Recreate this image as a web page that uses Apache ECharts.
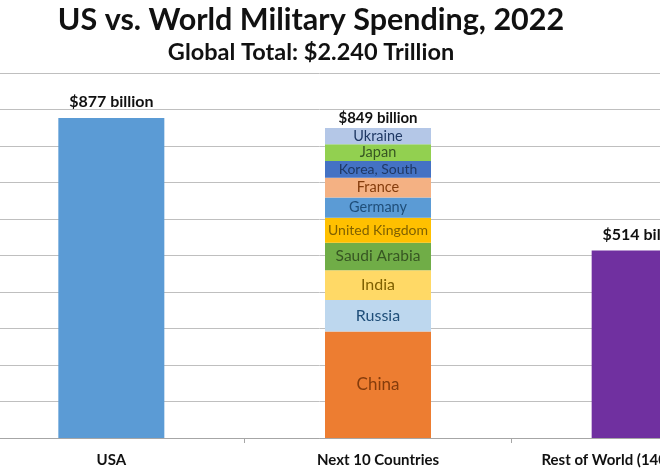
<!DOCTYPE html>
<html>
<head>
<meta charset="utf-8">
<script src="https://cdn.jsdelivr.net/npm/echarts@6/dist/echarts.min.js"></script>
<style>
  html, body { margin: 0; padding: 0; background: #fff; overflow: hidden; width: 660px; height: 470px; }
  /* the picture is a crop of a wider chart, so the chart box hangs off the left edge */
  #chart { position: absolute; left: -38px; top: 0; width: 698px; height: 470px; }
</style>
</head>
<body>
<div id="chart"></div>
<script>
// bars
var categories = ['USA', 'Next 10 Countries', 'Rest of World (140+ Countries)'];
var usaSpend = 877;
var restSpend = 514;

// the stacked middle bar, bottom to top
var next10Names = ['China', 'Russia', 'India', 'Saudi Arabia', 'United Kingdom', 'Germany', 'France', 'Korea, South', 'Japan', 'Ukraine'];
var next10Values = [292.0, 86.4, 81.4, 75.0, 68.5, 55.8, 53.6, 46.4, 46.0, 44.0];

// y axis ticks
var yMin = 0;
var yMax = 1000;
var yStep = 100;

// styles
var segColors = ['#ED7D31', '#BDD7EE', '#FFD966', '#70AD47', '#FFC000', '#5B9BD5', '#F4B183', '#4472C4', '#92D050', '#B4C7E7'];
var segTextColors = ['#843C0C', '#1F4E79', '#7F6000', '#375623', '#7F6000', '#1F4E79', '#843C0C', '#1F3864', '#375623', '#1F3864'];
var segFontSizes = [17, 16, 16, 15.5, 14, 14.5, 14.5, 14, 14.5, 14.5];

var FONT = 'Lato';

function billions(v) {
  return '$' + Math.round(v) + ' billion';
}

var myChart = echarts.init(document.getElementById('chart'));

var series = [];

// USA and Rest of World
series.push({
  name: 'single',
  type: 'bar',
  stack: 'total',
  barWidth: 106,
  data: [
    { value: usaSpend, itemStyle: { color: '#5B9BD5' } },
    '-',
    { value: restSpend, itemStyle: { color: '#7030A0' } }
  ],
  label: {
    show: true,
    position: 'top',
    distance: 8,
    fontFamily: FONT,
    fontWeight: 'bold',
    fontSize: 16,
    color: '#111',
    formatter: function (p) { return billions(p.value); }
  }
});

next10Names.forEach(function (name, i) {
  var d = categories.map(function () { return '-'; });
  d[1] = next10Values[i];
  series.push({
    name: name,
    type: 'bar',
    stack: 'total',
    barWidth: 106,
    data: d,
    itemStyle: { color: segColors[i] },
    label: {
      show: true,
      position: 'inside',
      fontFamily: FONT,
      fontSize: segFontSizes[i],
      color: segTextColors[i],
      formatter: name
    }
  });
});

// total above the stack
var next10Total = next10Values.reduce(function (a, b) { return a + b; }, 0);
var totData = categories.map(function () { return '-'; });
totData[1] = 0;
series.push({
  name: 'total',
  type: 'bar',
  stack: 'total',
  barWidth: 106,
  data: totData,
  itemStyle: { color: 'transparent' },
  label: {
    show: true,
    position: 'top',
    distance: 2,
    fontFamily: FONT,
    fontWeight: 'bold',
    fontSize: 15,
    color: '#111',
    formatter: function () { return billions(next10Total); }
  }
});

var option = {
  backgroundColor: '#fff',
  animation: false,
  title: [{
    text: 'US vs. World Military Spending, 2022',
    left: 'center',
    top: 0,
    textStyle: { fontFamily: FONT, fontWeight: 'bold', fontSize: 30.5, color: '#111' }
  }, {
    text: 'Global Total: $2.240 Trillion',
    left: 'center',
    top: 35,
    textStyle: { fontFamily: FONT, fontWeight: 'bold', fontSize: 23.5, color: '#111' }
  }],
  grid: {
    left: 16,
    top: 73,
    width: 800,
    height: 365,
    containLabel: false,
    outerBoundsMode: 'none'
  },
  xAxis: {
    type: 'category',
    data: categories,
    axisLine: { lineStyle: { color: '#A6A6A6', width: 1 } },
    axisTick: { show: true, length: 5, lineStyle: { color: '#A6A6A6' } },
    axisLabel: {
      interval: 0,
      margin: 15,
      fontFamily: FONT,
      fontWeight: 'bold',
      fontSize: 15,
      color: '#111'
    }
  },
  yAxis: {
    type: 'value',
    min: yMin,
    max: yMax,
    interval: yStep,
    axisLabel: { show: false },
    axisLine: { show: false },
    axisTick: { show: false },
    splitLine: { lineStyle: { color: '#BFBFBF', width: 1 } }
  },
  series: series
};

myChart.setOption(option);

window.addEventListener('resize', function () {
  myChart.resize();
});
</script>
</body>
</html>
